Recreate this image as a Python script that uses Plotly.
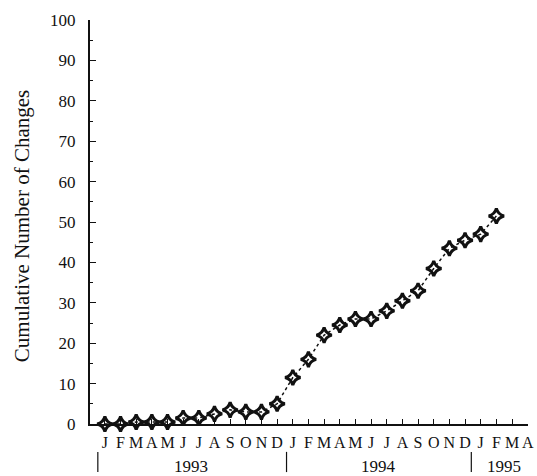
import plotly.graph_objects as go

month_labels = ["J","F","M","A","M","J","J","A","S","O","N","D",
                "J","F","M","A","M","J","J","A","S","O","N","D",
                "J","F","M","A"]
years = ["1993", "1994", "1995"]
month_index = list(range(26))  # Jan 1993 .. Feb 1995
changes = [0, 0, 0.5, 0.5, 0.5, 1.5, 1.5, 2.5, 3.5, 3, 3, 5,
           11.5, 16, 22, 24.5, 26, 26, 28, 30.5, 33, 38.5, 43.5, 45.5, 47, 51.5]

font = "Liberation Serif"
fig = go.Figure()
fig.add_trace(go.Scatter(
    x=month_index, y=changes, mode="lines+markers",
    line=dict(color="#111", width=1.5, dash="dot"),
    marker=dict(symbol="star-diamond-open", size=11, color="#111",
                line=dict(color="#111", width=3)),
    showlegend=False, cliponaxis=False))

fig.update_layout(
    width=537, height=476, plot_bgcolor="white", paper_bgcolor="white",
    margin=dict(l=90, r=9, t=20, b=52, autoexpand=False),
    font=dict(family=font, color="#111"),
    xaxis=dict(range=[-0.95, 27.02], tickmode="array", tickvals=list(range(len(month_labels))),
               ticktext=month_labels, ticks="inside", ticklen=5, tickcolor="#111",
               showline=True, linecolor="#111", linewidth=2, showgrid=False, zeroline=False,
               automargin=False, ticklabelstandoff=3,
               tickfont=dict(family=font, size=16, color="#111")),
    yaxis=dict(range=[0, 100], tickmode="linear", dtick=10, ticks="inside", ticklen=6,
               tickcolor="#111", showline=True, linecolor="#111", linewidth=2,
               showgrid=False, zeroline=False, ticklabelstandoff=9, automargin=False,
               minor=dict(dtick=5, ticks="inside", ticklen=3, tickcolor="#111"),
               tickfont=dict(family=font, size=17, color="#111")),
)

fig.add_annotation(x=-0.155, y=0.49, xref="paper", yref="paper",
                   text="Cumulative Number of Changes", textangle=-90, showarrow=False,
                   xanchor="center", yanchor="middle",
                   font=dict(family=font, size=21, color="#111"))

year_centers = [5.5, 17.5, 25.5]
for yr, xc in zip(years, year_centers):
    fig.add_annotation(x=xc, y=-0.106, xref="x", yref="paper", text=yr, showarrow=False,
                       font=dict(family=font, size=17, color="#111"), yanchor="middle")
for xb in [-0.45, 11.6, 23.4]:
    fig.add_shape(type="line", x0=xb, x1=xb, xref="x", y0=-0.069, y1=-0.119, yref="paper",
                  line=dict(color="#111", width=1.2))

fig.write_html("out.html", config={"displayModeBar": False},
               post_script="document.body.style.margin='0';document.body.style.overflow='hidden';")
